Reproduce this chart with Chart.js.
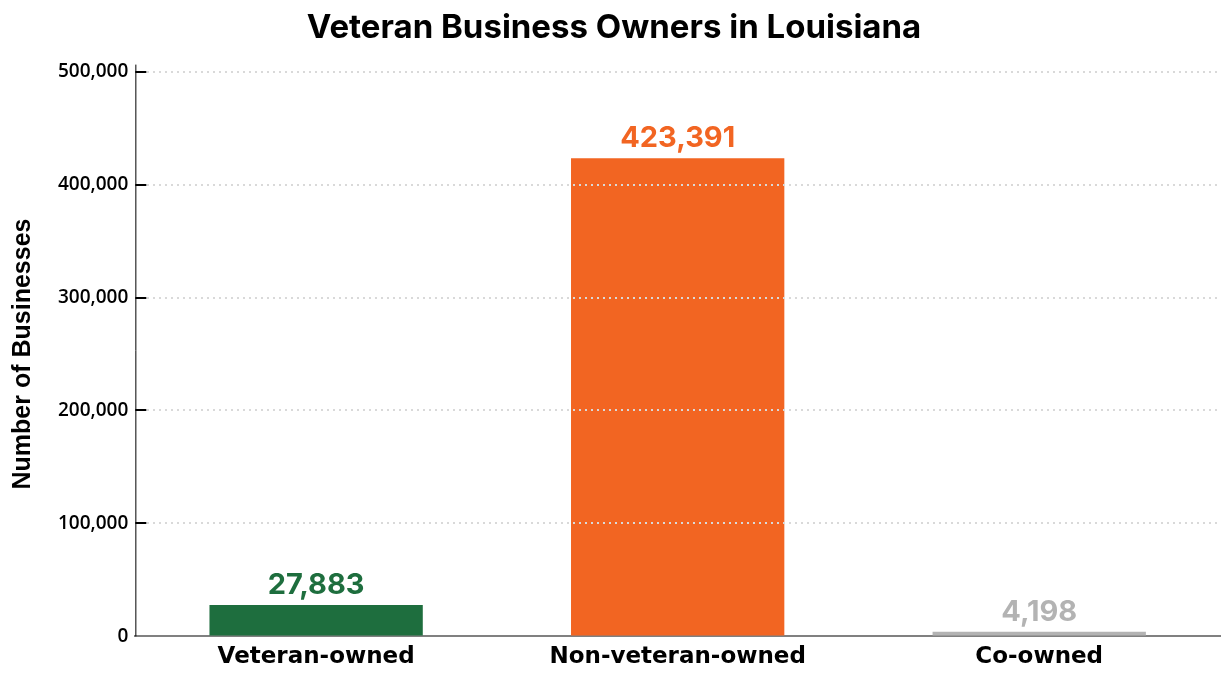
<!DOCTYPE html>
<html>
<head>
<meta charset="utf-8">
<title>Veteran Business Owners in Louisiana</title>
<script src="https://cdn.jsdelivr.net/npm/chart.js@4/dist/chart.umd.min.js"></script>
<style>
  html, body { margin: 0; padding: 0; background: #fff; }
  #wrap { width: 1230px; height: 680px; }
</style>
</head>
<body>
<div id="wrap"><canvas id="businessChart"></canvas></div>
<script>
// Data
const categories = ["Veteran-owned", "Non-veteran-owned", "Co-owned"];
const businessCounts = [27883, 423391, 4198];
const barColors = ["#1e6e3e", "#f26522", "#b3b3b3"];
const yTicks = [0, 100000, 200000, 300000, 400000, 500000];

// value labels above each bar
const valueLabels = {
  id: "valueLabels",
  afterDatasetsDraw(chart) {
    const ctx = chart.ctx;
    const meta = chart.getDatasetMeta(0);
    ctx.save();
    ctx.font = "bold 29px Inter, Roboto, sans-serif";
    ctx.textAlign = "center";
    ctx.textBaseline = "bottom";
    meta.data.forEach(function (bar, i) {
      ctx.fillStyle = barColors[i];
      ctx.fillText(businessCounts[i].toLocaleString("en-US"), bar.x, bar.y - 5);
    });
    ctx.restore();
  },
};

// left axis line and short tick marks pointing into the plot area
const innerTicks = {
  id: "innerTicks",
  afterDraw(chart) {
    const ctx = chart.ctx;
    const y = chart.scales.y;
    const area = chart.chartArea;
    ctx.save();
    ctx.strokeStyle = "#000";
    ctx.lineWidth = 1;
    ctx.beginPath();
    ctx.moveTo(area.left + 0.5, area.top - 7);
    ctx.lineTo(area.left + 0.5, area.bottom);
    ctx.stroke();
    ctx.lineWidth = 2;
    yTicks.forEach(function (v) {
      if (v === 0) return;
      const py = Math.round(y.getPixelForValue(v));
      ctx.beginPath();
      ctx.moveTo(area.left, py);
      ctx.lineTo(area.left + 11, py);
      ctx.stroke();
    });
    ctx.restore();
  },
};

new Chart(document.getElementById("businessChart").getContext("2d"), {
  type: "bar",
  data: {
    labels: categories,
    datasets: [
      {
        label: "Number of Businesses",
        data: businessCounts,
        backgroundColor: barColors,
        borderWidth: 0,
        barPercentage: 0.59,
        categoryPercentage: 1.0,
      },
    ],
  },
  options: {
    responsive: true,
    maintainAspectRatio: false,
    animation: false,
    layout: {
      padding: { left: 8, right: 10, top: 0, bottom: 2 },
    },
    plugins: {
      legend: { display: false },
      tooltip: { enabled: false },
      title: {
        display: true,
        text: "Veteran Business Owners in Louisiana",
        color: "#000",
        font: { family: "Inter, Roboto, sans-serif", size: 33, weight: "bold" },
        padding: { top: 8, bottom: 24 },
      },
    },
    scales: {
      x: {
        grid: { display: false, drawTicks: false },
        border: { display: true, color: "#808080", width: 2 },
        ticks: {
          color: "#000",
          padding: 7,
          font: { family: "DejaVu Sans, sans-serif", size: 23, weight: "bold" },
        },
      },
      y: {
        min: 0,
        max: 500000,
        afterBuildTicks: function (scale) {
          scale.ticks = yTicks.map(function (v) { return { value: v }; });
        },
        ticks: {
          color: "#000",
          padding: 7,
          font: { family: "Open Sans, sans-serif", size: 19, weight: "600" },
          callback: function (value) {
            return value.toLocaleString("en-US");
          },
        },
        grid: {
          color: function (c) { return c.tick.value === 0 ? "rgba(0,0,0,0)" : "#d9d9d9"; },
          lineWidth: 2,
          drawTicks: false,
          z: 1,
        },
        border: { display: false, dash: [2, 4] },
        title: {
          display: true,
          text: "Number of Businesses",
          color: "#000",
          font: { family: "Liberation Sans, Arial, sans-serif", size: 25, weight: "bold" },
          padding: { top: 0, bottom: 13 },
        },
      },
    },
  },
  plugins: [valueLabels, innerTicks],
});
</script>
</body>
</html>
